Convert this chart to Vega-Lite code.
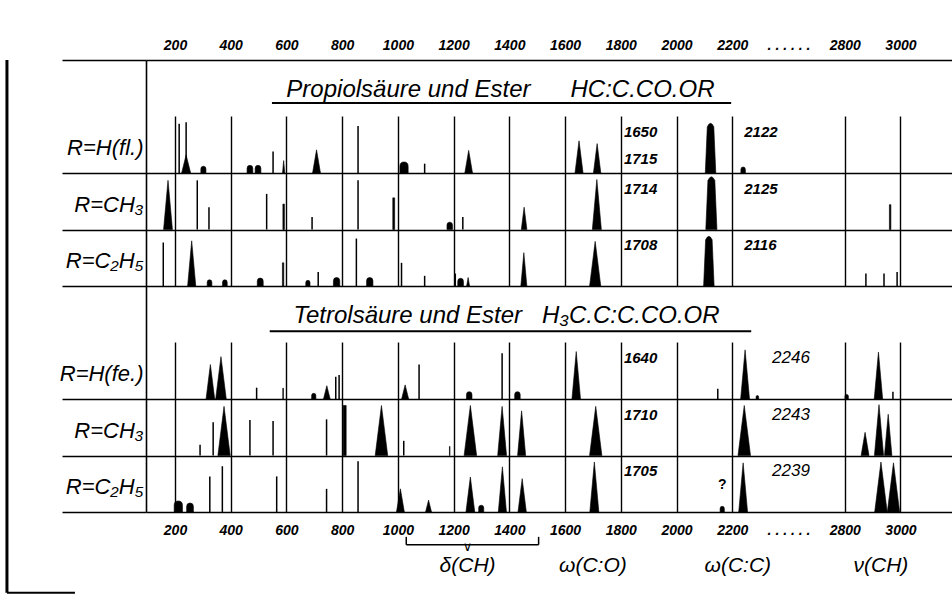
{
  "$schema": "https://vega.github.io/schema/vega-lite/v6.json",
  "width": 806,
  "height": 452,
  "autosize": {"type": "none"},
  "padding": {"left": 146, "top": 60, "right": 0, "bottom": 83},
  "background": "white",
  "config": {"view": {"stroke": null}, "font": "Liberation Sans"},
  "resolve": {"axis": {"x": "independent", "y": "independent"}},
  "datasets": {
    "peaks": [
      {"r":"A1","x":215,"i":8.7},
      {"r":"A1","x":240,"i":9.0,"t":3.2,"f":"w"},
      {"r":"A1","x":302,"t":1.2,"f":"b"},
      {"r":"A1","x":469,"t":1.35,"f":"b"},
      {"r":"A1","x":498,"t":1.35,"f":"b"},
      {"r":"A1","x":552,"i":3.8},
      {"r":"A1","x":590,"t":2.2,"f":"s"},
      {"r":"A1","x":708,"t":4.1,"f":"m"},
      {"r":"A1","x":857,"i":8.3},
      {"r":"A1","x":1022,"t":1.95,"f":"b"},
      {"r":"A1","x":1096,"i":1.65},
      {"r":"A1","x":1254,"t":4.0,"f":"m"},
      {"r":"A1","x":1650,"t":5.7,"f":"n"},
      {"r":"A1","x":1715,"t":5.2,"f":"n"},
      {"r":"A1","x":2122,"t":8.85,"f":"k"},
      {"r":"A1","x":2239,"t":1.06,"f":"b"},
      {"r":"A2","x":175,"t":8.7,"f":"s"},
      {"r":"A2","x":280,"i":8.7},
      {"r":"A2","x":322,"i":3.95},
      {"r":"A2","x":529,"i":6.3},
      {"r":"A2","x":590,"t":4.5,"f":"r"},
      {"r":"A2","x":692,"i":2.2},
      {"r":"A2","x":857,"i":8.7},
      {"r":"A2","x":985,"t":5.6,"f":"r"},
      {"r":"A2","x":1186,"t":1.3,"f":"b"},
      {"r":"A2","x":1233,"i":2.2},
      {"r":"A2","x":1453,"t":3.95,"f":"n"},
      {"r":"A2","x":1714,"t":8.85,"f":"s"},
      {"r":"A2","x":2125,"t":9.4,"f":"k"},
      {"r":"A2","x":2963,"t":4.4,"f":"r"},
      {"r":"A3","x":158,"i":7.7},
      {"r":"A3","x":260,"t":8.0,"f":"s"},
      {"r":"A3","x":324,"t":1.1,"f":"b"},
      {"r":"A3","x":379,"t":1.1,"f":"b"},
      {"r":"A3","x":506,"t":1.4,"f":"b"},
      {"r":"A3","x":588,"t":4.1,"f":"r"},
      {"r":"A3","x":677,"t":1.0,"f":"b"},
      {"r":"A3","x":714,"i":2.5},
      {"r":"A3","x":780,"t":1.5,"f":"b"},
      {"r":"A3","x":851,"i":8.4},
      {"r":"A3","x":899,"t":1.5,"f":"b"},
      {"r":"A3","x":1013,"i":4.1},
      {"r":"A3","x":1096,"i":1.8},
      {"r":"A3","x":1206,"i":2.2},
      {"r":"A3","x":1225,"t":1.35,"f":"b"},
      {"r":"A3","x":1252,"t":1.5,"f":"m"},
      {"r":"A3","x":1452,"t":5.9,"f":"s"},
      {"r":"A3","x":1708,"t":7.9,"f":"n"},
      {"r":"A3","x":2116,"t":8.85,"f":"k"},
      {"r":"A3","x":2876,"i":2.2},
      {"r":"A3","x":2941,"i":2.2},
      {"r":"A3","x":2988,"i":2.5},
      {"r":"B4","x":327,"t":6.1,"f":"n"},
      {"r":"B4","x":365,"t":7.5,"f":"n"},
      {"r":"B4","x":493,"i":2.0},
      {"r":"B4","x":588,"t":1.9,"f":"r"},
      {"r":"B4","x":698,"t":1.0,"f":"b"},
      {"r":"B4","x":745,"t":2.35,"f":"w"},
      {"r":"B4","x":777,"i":3.95},
      {"r":"B4","x":789,"i":4.25},
      {"r":"B4","x":1026,"t":2.5,"f":"w"},
      {"r":"B4","x":1076,"i":6.1},
      {"r":"B4","x":1256,"t":1.3,"f":"b"},
      {"r":"B4","x":1374,"i":8.1},
      {"r":"B4","x":1429,"t":1.3,"f":"b"},
      {"r":"B4","x":1640,"t":8.4,"f":"s"},
      {"r":"B4","x":2148,"i":1.8},
      {"r":"B4","x":2246,"t":8.7,"f":"s"},
      {"r":"B4","x":2290,"t":0.6,"f":"b"},
      {"r":"B4","x":2807,"t":0.8,"f":"b"},
      {"r":"B4","x":2921,"t":8.3,"f":"s"},
      {"r":"B4","x":2973,"i":1.3},
      {"r":"B5","x":290,"i":1.9},
      {"r":"B5","x":337,"i":5.9},
      {"r":"B5","x":376,"t":8.7,"f":"n"},
      {"r":"B5","x":469,"i":6.3},
      {"r":"B5","x":552,"i":6.1},
      {"r":"B5","x":744,"i":6.4},
      {"r":"B5","x":809,"t":8.85,"f":"r"},
      {"r":"B5","x":941,"t":8.85,"f":"n"},
      {"r":"B5","x":1021,"i":2.6},
      {"r":"B5","x":1186,"t":1.6,"f":"r"},
      {"r":"B5","x":1260,"t":8.85,"f":"n"},
      {"r":"B5","x":1374,"t":8.7,"f":"s"},
      {"r":"B5","x":1444,"t":7.9,"f":"s"},
      {"r":"B5","x":1710,"t":8.7,"f":"n"},
      {"r":"B5","x":2243,"t":8.85,"f":"n"},
      {"r":"B5","x":2873,"t":4.1,"f":"m"},
      {"r":"B5","x":2923,"t":9.0,"f":"s"},
      {"r":"B5","x":2956,"t":7.3,"f":"s"},
      {"r":"B6","x":212,"t":1.95,"f":"b"},
      {"r":"B6","x":254,"t":1.6,"f":"b"},
      {"r":"B6","x":325,"i":6.3},
      {"r":"B6","x":370,"i":8.1},
      {"r":"B6","x":565,"i":6.3},
      {"r":"B6","x":744,"i":4.1},
      {"r":"B6","x":857,"i":9.0},
      {"r":"B6","x":1009,"t":4.1,"f":"m"},
      {"r":"B6","x":1110,"t":2.1,"f":"w"},
      {"r":"B6","x":1260,"t":6.2,"f":"n"},
      {"r":"B6","x":1299,"t":1.2,"f":"b"},
      {"r":"B6","x":1375,"t":8.0,"f":"s"},
      {"r":"B6","x":1446,"t":5.9,"f":"n"},
      {"r":"B6","x":1705,"t":8.85,"f":"s"},
      {"r":"B6","x":2164,"t":1.0,"f":"b","q":"?"},
      {"r":"B6","x":2239,"t":8.7,"f":"s"},
      {"r":"B6","x":2930,"t":8.85,"f":"n"},
      {"r":"B6","x":2975,"t":8.7,"f":"n"}
    ],
    "labels": [
      {"r":"A1","g":"CO","v":"1650\n1715"},
      {"r":"A1","g":"CC","v":"2122"},
      {"r":"A2","g":"CO","v":"1714"},
      {"r":"A2","g":"CC","v":"2125"},
      {"r":"A3","g":"CO","v":"1708"},
      {"r":"A3","g":"CC","v":"2116"},
      {"r":"B4","g":"CO","v":"1640"},
      {"r":"B4","g":"CC","v":"2246"},
      {"r":"B5","g":"CO","v":"1710"},
      {"r":"B5","g":"CC","v":"2243"},
      {"r":"B6","g":"CO","v":"1705"},
      {"r":"B6","g":"CC","v":"2239"}
    ],
    "regions": [
      {"name":"δ(CH)","c":1250,"from":1030,"to":1505},
      {"name":"ω(C:O)","c":1700},
      {"name":"ω(C:C)","c":2220},
      {"name":"ν(CH)","c":2930}
    ]
  },
  "layer": [
    {
      "data": {"values": [{"r":"T1"},{"r":"T2"}]},
      "mark": {"type":"rect","fill":"white"},
      "encoding": {
        "y": {"field":"r","type":"nominal",
          "scale": {"type":"band","domain":["T1","A1","A2","A3","T2","B4","B5","B6"],"paddingInner":0,"paddingOuter":0},
          "axis": {"orient":"left","title":null,"zindex":1,
            "domain":true,"domainColor":"black","domainWidth":1.6,
            "ticks":true,"tickBand":"extent","tickSize":84,"tickWidth":1.6,"tickColor":"black",
            "tickOpacity":{"condition":{"test":"datum.value==='T1'||datum.value==='T2'","value":0},"value":1},
            "grid":true,"gridColor":"black","gridWidth":1.6,
            "gridOpacity":{"condition":{"test":"datum.value==='T1'||datum.value==='T2'","value":0},"value":1},
            "labelExpr":"datum.value=='A1'?'R=H(fl.)':(datum.value=='A2'||datum.value=='B5')?'R=CH₃':(datum.value=='A3'||datum.value=='B6')?'R=C₂H₅':datum.value=='B4'?'R=H(fe.)':''",
            "labelPadding":-81,"labelOffset":3,"labelFont":"Liberation Sans","labelFontSize":22,"labelFontStyle":"italic","labelColor":"black","labelAlign":"right","labelBaseline":"middle"}},
        "x": {"datum":96,"type":"quantitative",
          "scale": {"type":"linear","domain":[96,2400,2600,3185],"range":[0,642,643,806],"nice":false,"zero":false},
          "axis": {"orient":"bottom","title":null,"domain":false,"ticks":false,"zindex":0,
            "values":[200,400,600,800,1000,1200,1400,1600,1800,2000,2200,2500,2800,3000],
            "labelExpr":"datum.value==2500?'. . . . . .':''+datum.value",
            "grid":true,"gridColor":"black","gridWidth":1.4,
            "gridOpacity":{"condition":{"test":"datum.value==2500","value":0},"value":1},
            "labelPadding":11,"labelFont":"Liberation Sans","labelFontSize":14,"labelFontWeight":"bold","labelFontStyle":"italic","labelColor":"black","labelFlush":false,"labelOverlap":false}},
        "x2": {"datum":3185}
      }
    },
    {
      "data": {"values": [{}]},
      "mark": {"type":"rule","strokeWidth":3,"color":"black"},
      "encoding": {
        "x": {"datum":-403,"type":"quantitative",
          "axis": {"orient":"top","title":null,"domain":false,"ticks":false,"grid":false,
            "values":[200,400,600,800,1000,1200,1400,1600,1800,2000,2200,2500,2800,3000],
            "labelExpr":"datum.value==2500?'. . . . . .':''+datum.value",
            "labelPadding":8,"labelFont":"Liberation Sans","labelFontSize":14,"labelFontWeight":"bold","labelFontStyle":"italic","labelColor":"black","labelFlush":false,"labelOverlap":false}},
        "y": {"datum":"T1","type":"nominal","bandPosition":0,"axis":null},
        "y2": {"datum":"B6","bandPosition":2.43}
      }
    },
    {
      "data": {"values": [{}]},
      "mark": {"type":"rule","strokeWidth":2,"color":"black"},
      "encoding": {
        "x": {"datum":-403,"type":"quantitative","axis":null},
        "x2": {"datum":-159},
        "y": {"datum":"B6","type":"nominal","bandPosition":2.43,"axis":null}
      }
    },
    {
      "data": {"name":"peaks"},
      "transform": [{"filter":"datum.i > 0"}],
      "mark": {"type":"point","shape":"M0,0L0,-2","filled":false,"color":"black","strokeWidth":1.5,"opacity":1,"strokeCap":"butt"},
      "encoding": {
        "x": {"field":"x","type":"quantitative","axis":null},
        "y": {"field":"r","type":"nominal","bandPosition":1,"axis":null},
        "size": {"field":"i","type":"quantitative","scale":{"type":"pow","exponent":2,"domain":[0,10],"range":[0,3192]},"legend":null}
      }
    },
    {
      "data": {"name":"peaks"},
      "transform": [{"filter":"datum.t > 0"}],
      "mark": {"type":"point","filled":true,"color":"black","stroke":"black","strokeWidth":0.6,"opacity":1},
      "encoding": {
        "x": {"field":"x","type":"quantitative","axis":null},
        "y": {"field":"r","type":"nominal","bandPosition":1,"axis":null},
        "size": {"field":"t","type":"quantitative","legend":null},
        "shape": {"field":"f","type":"nominal","legend":null,
          "scale":{"domain":["s","n","m","w","k","r","b"],
            "range":["M-0.18,0L0,-2L0.18,0Z","M-0.25,0L0,-2L0.25,0Z","M-0.34,0L0,-2L0.34,0Z","M-0.5,0L0,-2L0.5,0Z","M-0.21,0L-0.13,-1.85Q0,-2.12 0.13,-1.85L0.21,0Z","M-0.06,0L-0.06,-2L0.06,-2L0.06,0Z","M-0.75,0L-0.75,-1.2Q-0.75,-2 0,-2Q0.75,-2 0.75,-1.2L0.75,0Z"]}}
      }
    },
    {
      "data": {"name":"peaks"},
      "transform": [{"filter":"datum.q"}],
      "mark": {"type":"text","fontSize":14,"fontWeight":"bold","align":"center","baseline":"middle"},
      "encoding": {
        "x": {"field":"x","type":"quantitative","axis":null},
        "y": {"field":"r","type":"nominal","bandPosition":0.52,"axis":null},
        "text": {"field":"q"}
      }
    },
    {
      "data": {"values": [{}]},
      "mark": {"type":"text","text":"Propiolsäure  und  Ester\u00a0\u00a0\u00a0\u00a0\u00a0\u00a0HC:C.CO.OR","fontSize":24,"fontStyle":"italic","align":"center","baseline":"alphabetic"},
      "encoding": {
        "x": {"datum":1368,"type":"quantitative","axis":null},
        "y": {"datum":"T1","type":"nominal","bandPosition":0.655,"axis":null}
      }
    },
    {
      "data": {"values": [{}]},
      "mark": {"type":"rule","strokeWidth":2,"color":"black"},
      "encoding": {
        "x": {"datum":548,"type":"quantitative","axis":null},
        "x2": {"datum":2196},
        "y": {"datum":"T1","type":"nominal","bandPosition":0.76,"axis":null}
      }
    },
    {
      "data": {"values": [{}]},
      "mark": {"type":"text","text":"Tetrolsäure  und  Ester\u00a0\u00a0\u00a0H₃C.C:C.CO.OR","fontSize":24,"fontStyle":"italic","align":"center","baseline":"alphabetic"},
      "encoding": {
        "x": {"datum":1390,"type":"quantitative","axis":null},
        "y": {"datum":"T2","type":"nominal","bandPosition":0.655,"axis":null}
      }
    },
    {
      "data": {"values": [{}]},
      "mark": {"type":"rule","strokeWidth":2,"color":"black"},
      "encoding": {
        "x": {"datum":540,"type":"quantitative","axis":null},
        "x2": {"datum":2268},
        "y": {"datum":"T2","type":"nominal","bandPosition":0.8,"axis":null}
      }
    },
    {
      "data": {"name":"labels"},
      "transform": [{"filter":"datum.g == 'CO'"}],
      "mark": {"type":"text","fontSize":15,"fontWeight":"bold","fontStyle":"italic","align":"left","baseline":"alphabetic","lineBreak":"\n","lineHeight":27},
      "encoding": {
        "x": {"datum":1811,"type":"quantitative","axis":null},
        "y": {"field":"r","type":"nominal","bandPosition":0.37,"axis":null},
        "text": {"field":"v"}
      }
    },
    {
      "data": {"name":"labels"},
      "transform": [{"filter":"datum.g == 'CC' && substring(datum.r,0,1) == 'A'"}],
      "mark": {"type":"text","fontSize":15,"fontWeight":"bold","fontStyle":"italic","align":"left","baseline":"alphabetic"},
      "encoding": {
        "x": {"datum":2243,"type":"quantitative","axis":null},
        "y": {"field":"r","type":"nominal","bandPosition":0.37,"axis":null},
        "text": {"field":"v"}
      }
    },
    {
      "data": {"name":"labels"},
      "transform": [{"filter":"datum.g == 'CC' && substring(datum.r,0,1) == 'B'"}],
      "mark": {"type":"text","fontSize":17,"fontStyle":"italic","align":"left","baseline":"alphabetic"},
      "encoding": {
        "x": {"datum":2343,"type":"quantitative","axis":null},
        "y": {"field":"r","type":"nominal","bandPosition":0.37,"axis":null},
        "text": {"field":"v"}
      }
    },
    {
      "data": {"name":"regions"},
      "mark": {"type":"text","fontSize":21,"fontStyle":"italic","align":"center","baseline":"middle"},
      "encoding": {
        "x": {"field":"c","type":"quantitative","axis":null},
        "y": {"datum":"B6","type":"nominal","bandPosition":1.96,"axis":null},
        "text": {"field":"name"}
      }
    },
    {
      "data": {"name":"regions"},
      "transform": [{"filter":"datum.from"}],
      "mark": {"type":"rule","strokeWidth":1.5,"color":"black"},
      "encoding": {
        "x": {"field":"from","type":"quantitative","axis":null},
        "x2": {"field":"to"},
        "y": {"datum":"B6","type":"nominal","bandPosition":1.58,"axis":null}
      }
    },
    {
      "data": {"name":"regions"},
      "transform": [{"filter":"datum.from"}],
      "mark": {"type":"rule","strokeWidth":1.5,"color":"black"},
      "encoding": {
        "x": {"field":"from","type":"quantitative","axis":null},
        "y": {"datum":"B6","type":"nominal","bandPosition":1.44,"axis":null},
        "y2": {"datum":"B6","bandPosition":1.58}
      }
    },
    {
      "data": {"name":"regions"},
      "transform": [{"filter":"datum.from"}],
      "mark": {"type":"rule","strokeWidth":1.5,"color":"black"},
      "encoding": {
        "x": {"field":"to","type":"quantitative","axis":null},
        "y": {"datum":"B6","type":"nominal","bandPosition":1.44,"axis":null},
        "y2": {"datum":"B6","bandPosition":1.58}
      }
    },
    {
      "data": {"name":"regions"},
      "transform": [{"filter":"datum.from"}],
      "mark": {"type":"text","text":"∨","font":"DejaVu Sans","fontSize":13,"align":"center","baseline":"top","dy":-4},
      "encoding": {
        "x": {"field":"c","type":"quantitative","axis":null},
        "y": {"datum":"B6","type":"nominal","bandPosition":1.58,"axis":null}
      }
    }
  ]
}
